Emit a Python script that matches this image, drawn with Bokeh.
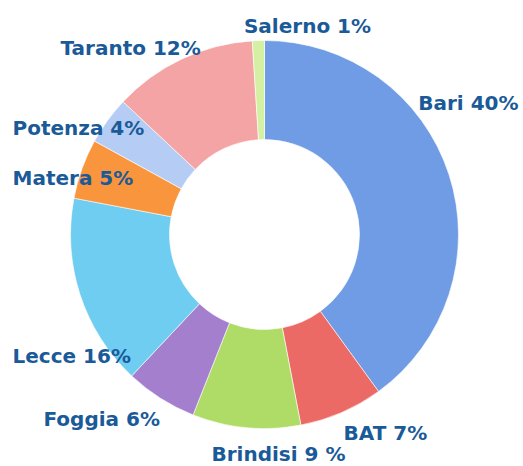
import math
from bokeh.plotting import figure
from bokeh.models import Range1d, ColumnDataSource
from bokeh.core.properties import value
from bokeh.embed import file_html
from bokeh.resources import INLINE

# ---- data ----
categories = ["Bari", "BAT", "Brindisi", "Foggia", "Lecce", "Matera", "Potenza", "Taranto", "Salerno"]
shares = [40, 7, 9, 6, 16, 5, 4, 12, 1]
labels = ["Bari 40%", "BAT 7%", "Brindisi 9 %", "Foggia 6%", "Lecce 16%",
          "Matera 5%", "Potenza 4%", "Taranto 12%", "Salerno 1%"]

# ---- styles / layout ----
colors = ["#6f9ce4", "#ec6a65", "#aedc66", "#a37fce", "#6fcdf1",
          "#f9953c", "#b5cdf4", "#f4a4a4", "#d4f0a2"]
# label anchor positions in picture pixels (x, y-center) and alignment
label_pos = [(518, 102, "right"), (343, 432, "left"), (278, 453, "center"),
             (43, 418, "left"), (12, 355, "left"), (12, 177, "left"),
             (12, 127, "left"), (60, 47, "left"), (307, 25, "center")]

W, H = 523, 466
cx_page, cy_page = 264, 234
r_out, r_in = 194, 95

def px(x):
    return x

def py(y):
    return H - y

total = float(sum(shares))
starts, ends = [], []
cum = 0.0
for v in shares:
    starts.append(math.pi / 2 - 2 * math.pi * cum / total)
    cum += v
    ends.append(math.pi / 2 - 2 * math.pi * cum / total)

wedges = ColumnDataSource(dict(
    x=[px(cx_page)] * len(shares), y=[py(cy_page)] * len(shares),
    start=starts, end=ends, color=colors, name=categories))

p = figure(width=W, height=H, output_backend="svg", toolbar_location=None,
           x_range=Range1d(0, W), y_range=Range1d(0, H),
           x_axis_location=None, y_axis_location=None, min_border=0,
           background_fill_color="white", border_fill_color="white")
p.outline_line_color = None
p.grid.visible = False

p.annular_wedge(x="x", y="y", inner_radius=r_in, outer_radius=r_out,
                start_angle="start", end_angle="end", direction="clock",
                fill_color="color", line_color="#ffffff", line_alpha=0.6,
                line_width=1, source=wedges)

for lab, (lx, ly, al) in zip(labels, label_pos):
    p.text(x=[px(lx)], y=[py(ly)], text=[lab], text_align=al,
           text_baseline="middle", text_font=value("DejaVu Sans"),
           text_font_style="bold", text_font_size="20px", text_color="#1a5a98")

open("out.html", "w").write(file_html(p, INLINE))
